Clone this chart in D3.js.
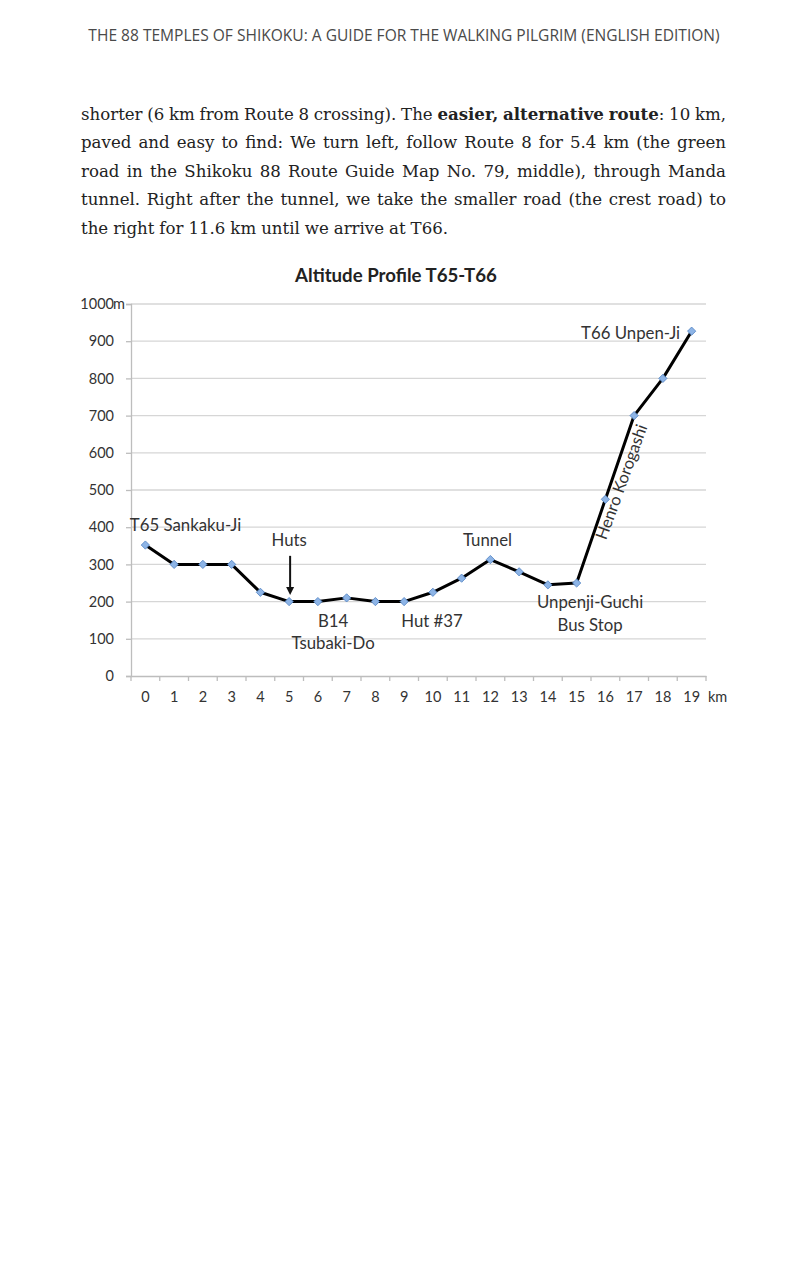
<!DOCTYPE html>
<html><head><meta charset="utf-8">
<script src="https://cdn.jsdelivr.net/npm/d3@7"></script>
<style>html,body{margin:0;padding:0;background:#fff}</style>
</head><body><svg id="c" width="808" height="1280"></svg>
<script>
// ---------- data ----------
const header = "THE 88 TEMPLES OF SHIKOKU: A GUIDE FOR THE WALKING PILGRIM (ENGLISH EDITION)";
const paragraphLines = [
  [["shorter (6 km from Route 8 crossing). The ", false], ["easier, alternative route", true], [": 10 km,", false]],
  [["paved and easy to find: We turn left, follow Route 8 for 5.4 km (the green", false]],
  [["road in the Shikoku 88 Route Guide Map No. 79, middle), through Manda", false]],
  [["tunnel. Right after the tunnel, we take the smaller road (the crest road) to", false]],
  [["the right for 11.6 km until we arrive at T66.", false]]
];
const chartTitle = "Altitude Profile T65-T66";
const distances = [0,1,2,3,4,5,6,7,8,9,10,11,12,13,14,15,16,17,18,19];
const altitudes = [352,300,300,300,225,200,200,210,200,200,225,263,313,280,245,250,475,700,800,927];
const yTicks = [0,100,200,300,400,500,600,700,800,900,1000];
const yUnit = "m";
const xUnit = "km";
// annotation positions in data space: i = distance index, alt = altitude (baseline)
const annotations = [
  {text:"T65 Sankaku-Ji", i:-0.54, alt:390, anchor:"start"},
  {text:"Huts", i:5, alt:349, anchor:"middle"},
  {text:"Tunnel", i:11.9, alt:349, anchor:"middle"},
  {text:"B14", i:6.53, alt:132, anchor:"middle"},
  {text:"Tsubaki-Do", i:6.53, alt:72, anchor:"middle"},
  {text:"Hut #37", i:9.97, alt:132, anchor:"middle"},
  {text:"Unpenji-Guchi", i:15.47, alt:183, anchor:"middle"},
  {text:"Bus Stop", i:15.47, alt:120, anchor:"middle"},
  {text:"T66 Unpen-Ji", i:18.6, alt:907, anchor:"end"}
];
const slopeLabel = {text:"Henro Korogashi", i:16.55, alt:522, angle:-70};
const arrowData = {i:5, from:323, to:218};

// ---------- drawing ----------
const svg = d3.select("#c");
svg.append("rect").attr("width",808).attr("height",1280).attr("fill","#fff");

// header
const hd = svg.append("text").attr("x",404).attr("y",41).attr("text-anchor","middle")
  .attr("font-family","'Open Sans', sans-serif").attr("font-size",15).attr("fill","#4a4a4a").text(header);
{ const w = hd.node().getComputedTextLength(); hd.attr("font-size", 15*632/w); }

// paragraph, justified
const left = 81, right = 726, lh = 28.5, firstBase = 119.5;
const bodyFont = "'DejaVu Serif', serif", bodySize = 16.6;
paragraphLines.forEach((runs, li) => {
  const words = []; let cur = [];
  runs.forEach(([txt, bold]) => {
    const parts = txt.split(" ");
    parts.forEach((p, k) => {
      if (k > 0) { if (cur.length) words.push(cur); cur = []; }
      if (p.length) cur.push([p, bold]);
    });
  });
  if (cur.length) words.push(cur);
  const yb = firstBase + li*lh;
  const nodes = words.map(w => {
    const t = svg.append("text").attr("y", yb).attr("font-family", bodyFont)
      .attr("font-size", bodySize).attr("fill","#222");
    w.forEach(([s,b]) => t.append("tspan").attr("font-weight", b ? "bold" : "normal").text(s));
    return t;
  });
  const widths = nodes.map(n => n.node().getComputedTextLength());
  const total = d3.sum(widths);
  const last = li === paragraphLines.length - 1;
  let gap = last ? bodySize*0.3 : (right - left - total) / (words.length - 1);
  let sx = 1;
  if (gap < 3) { sx = (right - left - 3*(words.length-1)) / total; gap = 3; }
  let xx = left;
  nodes.forEach((n, k) => {
    if (sx !== 1) n.attr("transform", `translate(${xx},0) scale(${sx},1)`).attr("x", 0);
    else n.attr("x", xx);
    xx += widths[k]*sx + gap;
  });
});

// chart
const x = d3.scaleBand().domain(distances).range([131, 706]);
const xp = d3.scaleLinear().domain([-0.5, distances.length - 0.5]).range([131, 706]);
const y = d3.scaleLinear().domain([0, 1000]).range([676, 304]);
const chartFont = "Lato, 'Open Sans', sans-serif";
const txtCol = "#333", axisCol = "#bdbdbd";

// title
const tt = svg.append("text").attr("x",396).attr("y",281.5).attr("text-anchor","middle")
  .attr("font-family",chartFont).attr("font-weight","bold").attr("font-size",17).attr("fill","#222").text(chartTitle);
{ const w = tt.node().getComputedTextLength(); tt.attr("font-size", 17*202/w); }

// gridlines
svg.append("g").selectAll("line").data(yTicks.filter(d => d > 0)).join("line")
  .attr("x1", 131).attr("x2", 706).attr("y1", d => y(d)).attr("y2", d => y(d))
  .attr("stroke", "#d6d6d6").attr("stroke-width", 1.3);

// y axis
const ya = svg.append("g").attr("transform","translate(131,0)")
  .call(d3.axisLeft(y).tickValues(yTicks).tickSize(5).tickPadding(12).tickFormat(d3.format("d")));
ya.select(".domain").attr("stroke", axisCol).attr("stroke-width",1.3);
ya.selectAll(".tick line").attr("stroke", axisCol).attr("stroke-width",1.3);
ya.selectAll(".tick text").attr("font-family", chartFont).attr("font-size", 14.5).attr("fill", txtCol);
svg.append("text").attr("x", 131-18).attr("y", y(1000)).attr("dy","0.32em")
  .attr("font-family", chartFont).attr("font-size", 14.5).attr("fill", txtCol).text(yUnit);

// x axis
const xa = svg.append("g").attr("transform","translate(0,676)")
  .call(d3.axisBottom(x).tickSize(0).tickPadding(16));
xa.select(".domain").attr("stroke", axisCol).attr("stroke-width",1.3);
xa.selectAll(".tick text").attr("font-family", chartFont).attr("font-size", 14.5).attr("fill", txtCol);
xa.selectAll(".bound").data(d3.range(distances.length + 1)).join("line").attr("class","bound")
  .attr("x1", d => xp(d - 0.5)).attr("x2", d => xp(d - 0.5)).attr("y1", 0).attr("y2", 5)
  .attr("stroke", axisCol).attr("stroke-width", 1.3);
svg.append("text").attr("x", 708).attr("y", 676 + 16).attr("dy","0.71em")
  .attr("font-family", chartFont).attr("font-size", 14.5).attr("fill", txtCol).text(xUnit);

// line
svg.append("path").datum(altitudes)
  .attr("d", d3.line().x((d,i) => xp(i)).y(d => y(d)))
  .attr("fill","none").attr("stroke","#000").attr("stroke-width",3).attr("stroke-linejoin","round");

// markers
svg.append("g").selectAll("path").data(altitudes).join("path")
  .attr("d", d3.symbol(d3.symbolSquare, 34))
  .attr("transform", (d,i) => `translate(${xp(i)},${y(d)}) rotate(45)`)
  .attr("fill", "#8db4e6").attr("stroke", "#5585c4").attr("stroke-width", 0.8);

// annotations
svg.append("g").selectAll("text").data(annotations).join("text")
  .attr("x", d => xp(d.i)).attr("y", d => y(d.alt)).attr("text-anchor", d => d.anchor)
  .attr("font-family", chartFont).attr("font-size", 16.8).attr("fill", txtCol).text(d => d.text);

svg.append("text")
  .attr("transform", `translate(${xp(slopeLabel.i)},${y(slopeLabel.alt)}) rotate(${slopeLabel.angle})`)
  .attr("text-anchor","middle").attr("dominant-baseline","central")
  .attr("font-family", chartFont).attr("font-size", 16.5).attr("fill", txtCol).text(slopeLabel.text);

// arrow
const ax = xp(arrowData.i) + 1;
svg.append("line").attr("x1", ax).attr("x2", ax).attr("y1", y(arrowData.from)).attr("y2", y(arrowData.to) - 6)
  .attr("stroke","#111").attr("stroke-width",2);
svg.append("path").attr("d", d3.line()([[ax-4, y(arrowData.to)-8],[ax+4, y(arrowData.to)-8],[ax, y(arrowData.to)]]) + "Z")
  .attr("fill","#111");
</script></body></html>
